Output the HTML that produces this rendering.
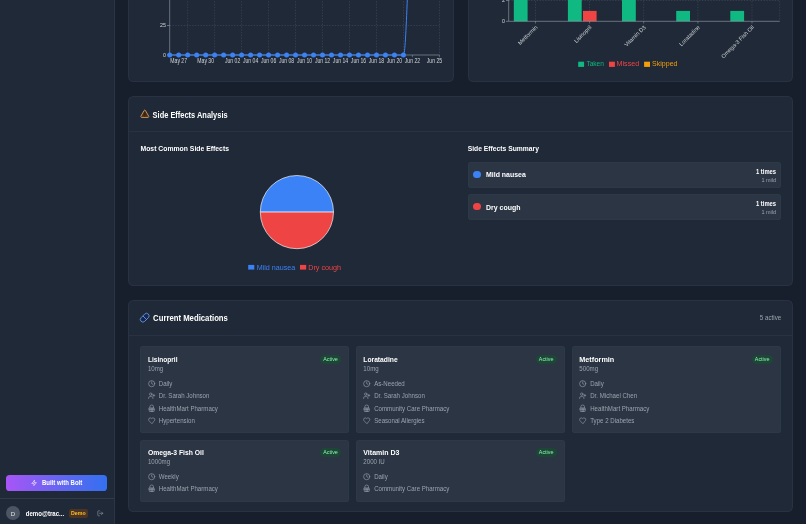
<!DOCTYPE html>
<html><head><meta charset="utf-8"><title>Medication Dashboard</title><style>
*{margin:0;padding:0;box-sizing:border-box}
html,body{width:806px;height:524px;overflow:hidden;background:#171e2c;font-family:"Liberation Sans",sans-serif;}
.a{position:absolute}
.card{position:absolute;background:#1f2937;border:1px solid rgba(55,65,81,0.42);border-radius:5.4px}
.item{position:absolute;background:rgba(55,65,81,0.5);border:1px solid rgba(75,85,99,0.12);border-radius:2.8px}
.t{position:absolute;white-space:nowrap;line-height:1}
svg{position:absolute;overflow:visible;will-change:transform}
</style></head>
<body>
<div class="a" style="left:0;top:0;width:115px;height:524px;background:#1f2937;border-right:1px solid rgba(55,65,81,0.5)"></div><div class="a" style="left:5.9px;top:474.8px;width:100.8px;height:16px;border-radius:3.6px;background:linear-gradient(90deg,#a855f7,#6366f1 55%,#3370f0)"></div><svg style="left:31.2px;top:480px" width="6.2" height="6.2" viewBox="0 0 24 24" fill="none" stroke="#fff" stroke-width="2.2" stroke-linecap="round" stroke-linejoin="round"><polygon points="13 2 3 14 12 14 11 22 21 10 12 10 13 2"/></svg><div class="a" style="left:0;top:498px;width:114px;height:1px;background:rgba(55,65,81,0.7)"></div><div class="a" style="left:5.8px;top:506px;width:14.3px;height:14.3px;border-radius:50%;background:#4b5563"></div><div class="a" style="left:69.2px;top:509.1px;width:18.6px;height:8.6px;border-radius:2.2px;background:rgba(120,63,20,0.5)"></div><svg style="left:96.8px;top:509.8px" width="6.6" height="6.6" viewBox="0 0 24 24" fill="none" stroke="#9ca3af" stroke-width="2" stroke-linecap="round" stroke-linejoin="round"><path d="M9 21H5a2 2 0 0 1-2-2V5a2 2 0 0 1 2-2h4"/><polyline points="16 17 21 12 16 7"/><line x1="21" y1="12" x2="9" y2="12"/></svg><div class="card" style="left:128.4px;top:-200px;width:325.7px;height:282.1px"></div><div class="card" style="left:467.9px;top:-200px;width:324.7px;height:282.0px"></div><div class="card" style="left:128.4px;top:96.0px;width:664.2px;height:189.6px"></div><div class="a" style="left:129px;top:131.4px;width:663.3px;height:1px;background:rgba(55,65,81,0.42)"></div><svg style="left:139.8px;top:109.4px" width="9.6" height="9.6" viewBox="0 0 24 24"><path d="M10.3 3.9a2 2 0 0 1 3.4 0l8 14A2 2 0 0 1 20 21H4a2 2 0 0 1-1.7-3.1Z" fill="#4a2e14" stroke="#d6a36a" stroke-width="2.2" stroke-linejoin="round"/><path d="M12 9v5M12 17.5v.5" stroke="#2a1a0a" stroke-width="2" stroke-linecap="round"/></svg><div class="item" style="left:468px;top:161.6px;width:312.8px;height:26.4px"></div><div class="a" style="left:473.4px;top:170.80px;width:7.2px;height:7.2px;border-radius:50%;background:#3b82f6"></div><div class="item" style="left:468px;top:194.1px;width:312.8px;height:26.4px"></div><div class="a" style="left:473.4px;top:203.30px;width:7.2px;height:7.2px;border-radius:50%;background:#ef4444"></div><div class="card" style="left:128.4px;top:300.0px;width:664.2px;height:212.4px"></div><div class="a" style="left:129px;top:334.7px;width:663.3px;height:1px;background:rgba(55,65,81,0.42)"></div><svg style="left:138.9px;top:312.1px" width="11.4" height="11.4" viewBox="0 0 12 12"><g transform="rotate(-45 6 6)"><rect x="0.6" y="3.3" width="10.8" height="5.4" rx="2.7" fill="#10295a" stroke="#7fa3d8" stroke-width="0.8"/><line x1="6" y1="3.3" x2="6" y2="8.7" stroke="#7fa3d8" stroke-width="0.8"/></g></svg><div class="item" style="left:140.2px;top:346.4px;width:208.80px;height:86.30px"></div><div class="a" style="left:320.00px;top:354.50px;width:21.1px;height:9.0px;border-radius:4.5px;background:rgba(20,83,45,0.55)"></div><svg style="left:147.50px;top:379.50px" width="7.4" height="7.4" viewBox="0 0 24 24" fill="none" stroke="#9ca3af" stroke-width="2" stroke-linecap="round" stroke-linejoin="round"><circle cx="12" cy="12" r="10"/><polyline points="12 6 12 12 16 14"/></svg><svg style="left:147.50px;top:392.10px" width="7.4" height="7.4" viewBox="0 0 24 24" fill="none" stroke="#9ca3af" stroke-width="2" stroke-linecap="round" stroke-linejoin="round"><path d="M16 21v-2a4 4 0 0 0-4-4H6a4 4 0 0 0-4 4v2"/><circle cx="9" cy="7" r="4"/><line x1="19" y1="8" x2="19" y2="14"/><line x1="22" y1="11" x2="16" y2="11"/></svg><svg style="left:147.50px;top:404.70px" width="7.4" height="7.4" viewBox="0 0 24 24" fill="none" stroke="#9ca3af" stroke-width="2" stroke-linecap="round" stroke-linejoin="round"><path d="M4 10h16v10a1 1 0 0 1-1 1H5a1 1 0 0 1-1-1Z"/><path d="M6 10V6a6 6 0 0 1 12 0v4"/><path d="M4 15h16"/><path d="M10 10v11M14 10v11"/></svg><svg style="left:147.50px;top:417.30px" width="7.4" height="7.4" viewBox="0 0 24 24" fill="none" stroke="#9ca3af" stroke-width="2" stroke-linecap="round" stroke-linejoin="round"><path d="M19 14c1.49-1.46 3-3.21 3-5.5A5.5 5.5 0 0 0 16.5 3c-1.76 0-3 .5-4.5 2-1.5-1.5-2.74-2-4.5-2A5.5 5.5 0 0 0 2 8.5c0 2.3 1.5 4.05 3 5.5l7 7Z"/></svg><div class="item" style="left:355.6px;top:346.4px;width:209.00px;height:86.30px"></div><div class="a" style="left:535.60px;top:354.50px;width:21.1px;height:9.0px;border-radius:4.5px;background:rgba(20,83,45,0.55)"></div><svg style="left:362.90px;top:379.50px" width="7.4" height="7.4" viewBox="0 0 24 24" fill="none" stroke="#9ca3af" stroke-width="2" stroke-linecap="round" stroke-linejoin="round"><circle cx="12" cy="12" r="10"/><polyline points="12 6 12 12 16 14"/></svg><svg style="left:362.90px;top:392.10px" width="7.4" height="7.4" viewBox="0 0 24 24" fill="none" stroke="#9ca3af" stroke-width="2" stroke-linecap="round" stroke-linejoin="round"><path d="M16 21v-2a4 4 0 0 0-4-4H6a4 4 0 0 0-4 4v2"/><circle cx="9" cy="7" r="4"/><line x1="19" y1="8" x2="19" y2="14"/><line x1="22" y1="11" x2="16" y2="11"/></svg><svg style="left:362.90px;top:404.70px" width="7.4" height="7.4" viewBox="0 0 24 24" fill="none" stroke="#9ca3af" stroke-width="2" stroke-linecap="round" stroke-linejoin="round"><path d="M4 10h16v10a1 1 0 0 1-1 1H5a1 1 0 0 1-1-1Z"/><path d="M6 10V6a6 6 0 0 1 12 0v4"/><path d="M4 15h16"/><path d="M10 10v11M14 10v11"/></svg><svg style="left:362.90px;top:417.30px" width="7.4" height="7.4" viewBox="0 0 24 24" fill="none" stroke="#9ca3af" stroke-width="2" stroke-linecap="round" stroke-linejoin="round"><path d="M19 14c1.49-1.46 3-3.21 3-5.5A5.5 5.5 0 0 0 16.5 3c-1.76 0-3 .5-4.5 2-1.5-1.5-2.74-2-4.5-2A5.5 5.5 0 0 0 2 8.5c0 2.3 1.5 4.05 3 5.5l7 7Z"/></svg><div class="item" style="left:571.6px;top:346.4px;width:209.00px;height:86.30px"></div><div class="a" style="left:751.60px;top:354.50px;width:21.1px;height:9.0px;border-radius:4.5px;background:rgba(20,83,45,0.55)"></div><svg style="left:578.90px;top:379.50px" width="7.4" height="7.4" viewBox="0 0 24 24" fill="none" stroke="#9ca3af" stroke-width="2" stroke-linecap="round" stroke-linejoin="round"><circle cx="12" cy="12" r="10"/><polyline points="12 6 12 12 16 14"/></svg><svg style="left:578.90px;top:392.10px" width="7.4" height="7.4" viewBox="0 0 24 24" fill="none" stroke="#9ca3af" stroke-width="2" stroke-linecap="round" stroke-linejoin="round"><path d="M16 21v-2a4 4 0 0 0-4-4H6a4 4 0 0 0-4 4v2"/><circle cx="9" cy="7" r="4"/><line x1="19" y1="8" x2="19" y2="14"/><line x1="22" y1="11" x2="16" y2="11"/></svg><svg style="left:578.90px;top:404.70px" width="7.4" height="7.4" viewBox="0 0 24 24" fill="none" stroke="#9ca3af" stroke-width="2" stroke-linecap="round" stroke-linejoin="round"><path d="M4 10h16v10a1 1 0 0 1-1 1H5a1 1 0 0 1-1-1Z"/><path d="M6 10V6a6 6 0 0 1 12 0v4"/><path d="M4 15h16"/><path d="M10 10v11M14 10v11"/></svg><svg style="left:578.90px;top:417.30px" width="7.4" height="7.4" viewBox="0 0 24 24" fill="none" stroke="#9ca3af" stroke-width="2" stroke-linecap="round" stroke-linejoin="round"><path d="M19 14c1.49-1.46 3-3.21 3-5.5A5.5 5.5 0 0 0 16.5 3c-1.76 0-3 .5-4.5 2-1.5-1.5-2.74-2-4.5-2A5.5 5.5 0 0 0 2 8.5c0 2.3 1.5 4.05 3 5.5l7 7Z"/></svg><div class="item" style="left:140.2px;top:439.6px;width:208.80px;height:62.30px"></div><div class="a" style="left:320.00px;top:447.70px;width:21.1px;height:9.0px;border-radius:4.5px;background:rgba(20,83,45,0.55)"></div><svg style="left:147.50px;top:472.70px" width="7.4" height="7.4" viewBox="0 0 24 24" fill="none" stroke="#9ca3af" stroke-width="2" stroke-linecap="round" stroke-linejoin="round"><circle cx="12" cy="12" r="10"/><polyline points="12 6 12 12 16 14"/></svg><svg style="left:147.50px;top:485.30px" width="7.4" height="7.4" viewBox="0 0 24 24" fill="none" stroke="#9ca3af" stroke-width="2" stroke-linecap="round" stroke-linejoin="round"><path d="M4 10h16v10a1 1 0 0 1-1 1H5a1 1 0 0 1-1-1Z"/><path d="M6 10V6a6 6 0 0 1 12 0v4"/><path d="M4 15h16"/><path d="M10 10v11M14 10v11"/></svg><div class="item" style="left:355.6px;top:439.6px;width:209.00px;height:62.30px"></div><div class="a" style="left:535.60px;top:447.70px;width:21.1px;height:9.0px;border-radius:4.5px;background:rgba(20,83,45,0.55)"></div><svg style="left:362.90px;top:472.70px" width="7.4" height="7.4" viewBox="0 0 24 24" fill="none" stroke="#9ca3af" stroke-width="2" stroke-linecap="round" stroke-linejoin="round"><circle cx="12" cy="12" r="10"/><polyline points="12 6 12 12 16 14"/></svg><svg style="left:362.90px;top:485.30px" width="7.4" height="7.4" viewBox="0 0 24 24" fill="none" stroke="#9ca3af" stroke-width="2" stroke-linecap="round" stroke-linejoin="round"><path d="M4 10h16v10a1 1 0 0 1-1 1H5a1 1 0 0 1-1-1Z"/><path d="M6 10V6a6 6 0 0 1 12 0v4"/><path d="M4 15h16"/><path d="M10 10v11M14 10v11"/></svg>
<svg style="left:0;top:0" width="806" height="524" viewBox="0 0 806 524" font-family="Liberation Sans"><line x1="169.7" y1="25.5" x2="439.5" y2="25.5" stroke="#4b5563" stroke-width="0.5" stroke-dasharray="1.4 1.4"/><line x1="187.68" y1="-10" x2="187.68" y2="55.0" stroke="#4b5563" stroke-width="0.5" stroke-dasharray="1.4 1.4"/><line x1="214.65" y1="-10" x2="214.65" y2="55.0" stroke="#4b5563" stroke-width="0.5" stroke-dasharray="1.4 1.4"/><line x1="241.62" y1="-10" x2="241.62" y2="55.0" stroke="#4b5563" stroke-width="0.5" stroke-dasharray="1.4 1.4"/><line x1="268.59" y1="-10" x2="268.59" y2="55.0" stroke="#4b5563" stroke-width="0.5" stroke-dasharray="1.4 1.4"/><line x1="295.56" y1="-10" x2="295.56" y2="55.0" stroke="#4b5563" stroke-width="0.5" stroke-dasharray="1.4 1.4"/><line x1="322.53" y1="-10" x2="322.53" y2="55.0" stroke="#4b5563" stroke-width="0.5" stroke-dasharray="1.4 1.4"/><line x1="349.50" y1="-10" x2="349.50" y2="55.0" stroke="#4b5563" stroke-width="0.5" stroke-dasharray="1.4 1.4"/><line x1="376.47" y1="-10" x2="376.47" y2="55.0" stroke="#4b5563" stroke-width="0.5" stroke-dasharray="1.4 1.4"/><line x1="403.44" y1="-10" x2="403.44" y2="55.0" stroke="#4b5563" stroke-width="0.5" stroke-dasharray="1.4 1.4"/><line x1="439.5" y1="-10" x2="439.5" y2="55.0" stroke="#4b5563" stroke-width="0.5" stroke-dasharray="1.4 1.4"/><line x1="169.7" y1="-10" x2="169.7" y2="55.0" stroke="#9ca3af" stroke-width="0.6"/><line x1="169.7" y1="55.0" x2="439.5" y2="55.0" stroke="#9ca3af" stroke-width="0.6"/><line x1="167.0" y1="25.5" x2="169.7" y2="25.5" stroke="#9ca3af" stroke-width="0.6"/><line x1="167.0" y1="55.0" x2="169.7" y2="55.0" stroke="#9ca3af" stroke-width="0.6"/><text x="166" y="27.4" font-size="5.37" fill="#d1d5db" text-anchor="end">25</text><text x="166" y="56.9" font-size="5.37" fill="#d1d5db" text-anchor="end">0</text><line x1="178.69" y1="55.0" x2="178.69" y2="57.2" stroke="#9ca3af" stroke-width="0.5"/><text x="178.69" y="63.0" font-size="6.27" fill="#d1d5db" text-anchor="middle" textLength="16.71" lengthAdjust="spacingAndGlyphs">May 27</text><line x1="205.66" y1="55.0" x2="205.66" y2="57.2" stroke="#9ca3af" stroke-width="0.5"/><text x="205.66" y="63.0" font-size="6.27" fill="#d1d5db" text-anchor="middle" textLength="16.71" lengthAdjust="spacingAndGlyphs">May 30</text><line x1="232.63" y1="55.0" x2="232.63" y2="57.2" stroke="#9ca3af" stroke-width="0.5"/><text x="232.63" y="63.0" font-size="6.27" fill="#d1d5db" text-anchor="middle" textLength="15.30" lengthAdjust="spacingAndGlyphs">Jun 02</text><line x1="250.61" y1="55.0" x2="250.61" y2="57.2" stroke="#9ca3af" stroke-width="0.5"/><text x="250.61" y="63.0" font-size="6.27" fill="#d1d5db" text-anchor="middle" textLength="15.30" lengthAdjust="spacingAndGlyphs">Jun 04</text><line x1="268.59" y1="55.0" x2="268.59" y2="57.2" stroke="#9ca3af" stroke-width="0.5"/><text x="268.59" y="63.0" font-size="6.27" fill="#d1d5db" text-anchor="middle" textLength="15.30" lengthAdjust="spacingAndGlyphs">Jun 06</text><line x1="286.57" y1="55.0" x2="286.57" y2="57.2" stroke="#9ca3af" stroke-width="0.5"/><text x="286.57" y="63.0" font-size="6.27" fill="#d1d5db" text-anchor="middle" textLength="15.30" lengthAdjust="spacingAndGlyphs">Jun 08</text><line x1="304.55" y1="55.0" x2="304.55" y2="57.2" stroke="#9ca3af" stroke-width="0.5"/><text x="304.55" y="63.0" font-size="6.27" fill="#d1d5db" text-anchor="middle" textLength="15.30" lengthAdjust="spacingAndGlyphs">Jun 10</text><line x1="322.53" y1="55.0" x2="322.53" y2="57.2" stroke="#9ca3af" stroke-width="0.5"/><text x="322.53" y="63.0" font-size="6.27" fill="#d1d5db" text-anchor="middle" textLength="15.30" lengthAdjust="spacingAndGlyphs">Jun 12</text><line x1="340.51" y1="55.0" x2="340.51" y2="57.2" stroke="#9ca3af" stroke-width="0.5"/><text x="340.51" y="63.0" font-size="6.27" fill="#d1d5db" text-anchor="middle" textLength="15.30" lengthAdjust="spacingAndGlyphs">Jun 14</text><line x1="358.49" y1="55.0" x2="358.49" y2="57.2" stroke="#9ca3af" stroke-width="0.5"/><text x="358.49" y="63.0" font-size="6.27" fill="#d1d5db" text-anchor="middle" textLength="15.30" lengthAdjust="spacingAndGlyphs">Jun 16</text><line x1="376.47" y1="55.0" x2="376.47" y2="57.2" stroke="#9ca3af" stroke-width="0.5"/><text x="376.47" y="63.0" font-size="6.27" fill="#d1d5db" text-anchor="middle" textLength="15.30" lengthAdjust="spacingAndGlyphs">Jun 18</text><line x1="394.45" y1="55.0" x2="394.45" y2="57.2" stroke="#9ca3af" stroke-width="0.5"/><text x="394.45" y="63.0" font-size="6.27" fill="#d1d5db" text-anchor="middle" textLength="15.30" lengthAdjust="spacingAndGlyphs">Jun 20</text><line x1="412.43" y1="55.0" x2="412.43" y2="57.2" stroke="#9ca3af" stroke-width="0.5"/><text x="412.43" y="63.0" font-size="6.27" fill="#d1d5db" text-anchor="middle" textLength="15.30" lengthAdjust="spacingAndGlyphs">Jun 22</text><line x1="439.40" y1="55.0" x2="439.40" y2="57.2" stroke="#9ca3af" stroke-width="0.5"/><text x="434.40" y="63.0" font-size="6.27" fill="#d1d5db" text-anchor="middle" textLength="15.30" lengthAdjust="spacingAndGlyphs">Jun 25</text><path d="M169.7,55.0 L403.44,55.0 C406.44,55.0 407.94,-40 412.44,-120" fill="none" stroke="#3b82f6" stroke-width="1.0"/><circle cx="169.70" cy="55.0" r="2.5" fill="#3b82f6"/><circle cx="178.69" cy="55.0" r="2.5" fill="#3b82f6"/><circle cx="187.68" cy="55.0" r="2.5" fill="#3b82f6"/><circle cx="196.67" cy="55.0" r="2.5" fill="#3b82f6"/><circle cx="205.66" cy="55.0" r="2.5" fill="#3b82f6"/><circle cx="214.65" cy="55.0" r="2.5" fill="#3b82f6"/><circle cx="223.64" cy="55.0" r="2.5" fill="#3b82f6"/><circle cx="232.63" cy="55.0" r="2.5" fill="#3b82f6"/><circle cx="241.62" cy="55.0" r="2.5" fill="#3b82f6"/><circle cx="250.61" cy="55.0" r="2.5" fill="#3b82f6"/><circle cx="259.60" cy="55.0" r="2.5" fill="#3b82f6"/><circle cx="268.59" cy="55.0" r="2.5" fill="#3b82f6"/><circle cx="277.58" cy="55.0" r="2.5" fill="#3b82f6"/><circle cx="286.57" cy="55.0" r="2.5" fill="#3b82f6"/><circle cx="295.56" cy="55.0" r="2.5" fill="#3b82f6"/><circle cx="304.55" cy="55.0" r="2.5" fill="#3b82f6"/><circle cx="313.54" cy="55.0" r="2.5" fill="#3b82f6"/><circle cx="322.53" cy="55.0" r="2.5" fill="#3b82f6"/><circle cx="331.52" cy="55.0" r="2.5" fill="#3b82f6"/><circle cx="340.51" cy="55.0" r="2.5" fill="#3b82f6"/><circle cx="349.50" cy="55.0" r="2.5" fill="#3b82f6"/><circle cx="358.49" cy="55.0" r="2.5" fill="#3b82f6"/><circle cx="367.48" cy="55.0" r="2.5" fill="#3b82f6"/><circle cx="376.47" cy="55.0" r="2.5" fill="#3b82f6"/><circle cx="385.46" cy="55.0" r="2.5" fill="#3b82f6"/><circle cx="394.45" cy="55.0" r="2.5" fill="#3b82f6"/><circle cx="403.44" cy="55.0" r="2.5" fill="#3b82f6"/><line x1="508.7" y1="0.5" x2="779.7" y2="0.5" stroke="#4b5563" stroke-width="0.5" stroke-dasharray="1.4 1.4"/><line x1="535.5" y1="-10" x2="535.5" y2="21.3" stroke="#4b5563" stroke-width="0.5" stroke-dasharray="1.4 1.4"/><line x1="589.6" y1="-10" x2="589.6" y2="21.3" stroke="#4b5563" stroke-width="0.5" stroke-dasharray="1.4 1.4"/><line x1="643.7" y1="-10" x2="643.7" y2="21.3" stroke="#4b5563" stroke-width="0.5" stroke-dasharray="1.4 1.4"/><line x1="697.9" y1="-10" x2="697.9" y2="21.3" stroke="#4b5563" stroke-width="0.5" stroke-dasharray="1.4 1.4"/><line x1="752.0" y1="-10" x2="752.0" y2="21.3" stroke="#4b5563" stroke-width="0.5" stroke-dasharray="1.4 1.4"/><line x1="779.7" y1="-10" x2="779.7" y2="21.3" stroke="#4b5563" stroke-width="0.5" stroke-dasharray="1.4 1.4"/><rect x="513.80" y="-20" width="13.8" height="41.30" fill="#10b981"/><rect x="567.90" y="-20" width="13.8" height="41.30" fill="#10b981"/><rect x="583.00" y="10.9" width="13.6" height="10.40" fill="#ef4444"/><rect x="622.00" y="-20" width="13.8" height="41.30" fill="#10b981"/><rect x="676.20" y="10.9" width="13.8" height="10.40" fill="#10b981"/><rect x="730.30" y="10.9" width="13.8" height="10.40" fill="#10b981"/><line x1="508.7" y1="-10" x2="508.7" y2="21.3" stroke="#9ca3af" stroke-width="0.6"/><line x1="508.7" y1="21.3" x2="779.7" y2="21.3" stroke="#9ca3af" stroke-width="0.6"/><line x1="506.0" y1="0.5" x2="508.7" y2="0.5" stroke="#9ca3af" stroke-width="0.6"/><line x1="506.0" y1="21.3" x2="508.7" y2="21.3" stroke="#9ca3af" stroke-width="0.6"/><text x="505" y="2.4" font-size="5.37" fill="#d1d5db" text-anchor="end">2</text><text x="505" y="23.2" font-size="5.37" fill="#d1d5db" text-anchor="end">0</text><line x1="535.5" y1="21.3" x2="535.5" y2="23.5" stroke="#9ca3af" stroke-width="0.5"/><text x="537.90" y="27.700000000000003" font-size="5.6" fill="#d1d5db" text-anchor="end" transform="rotate(-45 537.90 27.700000000000003)">Metformin</text><line x1="589.6" y1="21.3" x2="589.6" y2="23.5" stroke="#9ca3af" stroke-width="0.5"/><text x="592.00" y="27.700000000000003" font-size="5.6" fill="#d1d5db" text-anchor="end" transform="rotate(-45 592.00 27.700000000000003)">Lisinopril</text><line x1="643.7" y1="21.3" x2="643.7" y2="23.5" stroke="#9ca3af" stroke-width="0.5"/><text x="646.10" y="27.700000000000003" font-size="5.6" fill="#d1d5db" text-anchor="end" transform="rotate(-45 646.10 27.700000000000003)">Vitamin D3</text><line x1="697.9" y1="21.3" x2="697.9" y2="23.5" stroke="#9ca3af" stroke-width="0.5"/><text x="700.30" y="27.700000000000003" font-size="5.6" fill="#d1d5db" text-anchor="end" transform="rotate(-45 700.30 27.700000000000003)">Loratadine</text><line x1="752.0" y1="21.3" x2="752.0" y2="23.5" stroke="#9ca3af" stroke-width="0.5"/><text x="754.40" y="27.700000000000003" font-size="5.6" fill="#d1d5db" text-anchor="end" transform="rotate(-45 754.40 27.700000000000003)">Omega-3 Fish Oil</text><rect x="578.2" y="61.7" width="5.9" height="5.2" fill="#10b981"/><text x="586.4" y="66.2" font-size="7.16" fill="#10b981" textLength="17.5" lengthAdjust="spacingAndGlyphs">Taken</text><rect x="609.0" y="61.7" width="5.9" height="5.2" fill="#ef4444"/><text x="616.5" y="66.2" font-size="7.16" fill="#ef4444" textLength="22.7" lengthAdjust="spacingAndGlyphs">Missed</text><rect x="644.1" y="61.7" width="5.9" height="5.2" fill="#f59e0b"/><text x="652.0" y="66.2" font-size="7.16" fill="#f59e0b" textLength="25.5" lengthAdjust="spacingAndGlyphs">Skipped</text><path d="M260.29999999999995,212.1 A36.6,36.6 0 0 1 333.5,212.1 Z" fill="#3b82f6" stroke="#f3f4f6" stroke-width="0.7"/><path d="M333.5,212.1 A36.6,36.6 0 0 1 260.29999999999995,212.1 Z" fill="#ef4444" stroke="#f3f4f6" stroke-width="0.7"/><rect x="248.2" y="264.9" width="6.1" height="4.7" fill="#3b82f6"/><text x="256.7" y="269.6" font-size="7.16" fill="#3b82f6" textLength="38.6" lengthAdjust="spacingAndGlyphs">Mild nausea</text><rect x="300.0" y="264.9" width="6.2" height="4.7" fill="#ef4444"/><text x="308.2" y="269.6" font-size="7.16" fill="#ef4444" textLength="32.8" lengthAdjust="spacingAndGlyphs">Dry cough</text><text x="41.90" y="485.40" font-size="6.27" fill="#fff" font-weight="700" textLength="40.40" lengthAdjust="spacingAndGlyphs">Built with Bolt</text><text x="12.90" y="515.60" font-size="6.0" fill="#e5e7eb" text-anchor="middle">D</text><text x="25.70" y="515.80" font-size="6.27" fill="#fff" font-weight="700" textLength="38.50" lengthAdjust="spacingAndGlyphs">demo@trac...</text><text x="71.00" y="515.30" font-size="5.37" fill="#fbbf24" font-weight="700" textLength="14.60" lengthAdjust="spacingAndGlyphs">Demo</text><text x="152.60" y="118.00" font-size="8.4" fill="#fff" font-weight="700" textLength="75.00" lengthAdjust="spacingAndGlyphs">Side Effects Analysis</text><text x="140.50" y="151.30" font-size="7.16" fill="#fff" font-weight="700" textLength="88.50" lengthAdjust="spacingAndGlyphs">Most Common Side Effects</text><text x="467.70" y="151.30" font-size="7.16" fill="#fff" font-weight="700" textLength="71.20" lengthAdjust="spacingAndGlyphs">Side Effects Summary</text><text x="486.00" y="177.00" font-size="7.16" fill="#fff" font-weight="700" textLength="39.80" lengthAdjust="spacingAndGlyphs">Mild nausea</text><text x="776.10" y="173.50" font-size="6.27" fill="#fff" font-weight="700" text-anchor="end" textLength="20.10" lengthAdjust="spacingAndGlyphs">1 times</text><text x="776.10" y="181.80" font-size="5.37" fill="#9ca3af" text-anchor="end" textLength="14.70" lengthAdjust="spacingAndGlyphs">1 mild</text><text x="486.00" y="209.50" font-size="7.16" fill="#fff" font-weight="700" textLength="34.39" lengthAdjust="spacingAndGlyphs">Dry cough</text><text x="776.10" y="206.00" font-size="6.27" fill="#fff" font-weight="700" text-anchor="end" textLength="20.10" lengthAdjust="spacingAndGlyphs">1 times</text><text x="776.10" y="214.30" font-size="5.37" fill="#9ca3af" text-anchor="end" textLength="14.70" lengthAdjust="spacingAndGlyphs">1 mild</text><text x="153.10" y="321.10" font-size="8.4" fill="#fff" font-weight="700" textLength="74.80" lengthAdjust="spacingAndGlyphs">Current Medications</text><text x="781.20" y="320.20" font-size="6.27" fill="#9ca3af" text-anchor="end" textLength="21.40" lengthAdjust="spacingAndGlyphs">5 active</text><text x="147.90" y="361.60" font-size="7.16" fill="#fff" font-weight="700" textLength="29.60" lengthAdjust="spacingAndGlyphs">Lisinopril</text><text x="147.90" y="371.20" font-size="6.27" fill="#9ca3af" textLength="15.37" lengthAdjust="spacingAndGlyphs">10mg</text><text x="330.55" y="361.00" font-size="5.37" fill="#86efac" text-anchor="middle">Active</text><text x="158.80" y="385.60" font-size="6.27" fill="#9ca3af" textLength="13.59" lengthAdjust="spacingAndGlyphs">Daily</text><text x="158.80" y="398.20" font-size="6.27" fill="#9ca3af" textLength="50.63" lengthAdjust="spacingAndGlyphs">Dr. Sarah Johnson</text><text x="158.80" y="410.80" font-size="6.27" fill="#9ca3af" textLength="59.11" lengthAdjust="spacingAndGlyphs">HealthMart Pharmacy</text><text x="158.80" y="423.40" font-size="6.27" fill="#9ca3af" textLength="36.02" lengthAdjust="spacingAndGlyphs">Hypertension</text><text x="363.30" y="361.60" font-size="7.16" fill="#fff" font-weight="700" textLength="34.40" lengthAdjust="spacingAndGlyphs">Loratadine</text><text x="363.30" y="371.20" font-size="6.27" fill="#9ca3af" textLength="15.37" lengthAdjust="spacingAndGlyphs">10mg</text><text x="546.15" y="361.00" font-size="5.37" fill="#86efac" text-anchor="middle">Active</text><text x="374.20" y="385.60" font-size="6.27" fill="#9ca3af" textLength="30.58" lengthAdjust="spacingAndGlyphs">As-Needed</text><text x="374.20" y="398.20" font-size="6.27" fill="#9ca3af" textLength="50.63" lengthAdjust="spacingAndGlyphs">Dr. Sarah Johnson</text><text x="374.20" y="410.80" font-size="6.27" fill="#9ca3af" textLength="75.07" lengthAdjust="spacingAndGlyphs">Community Care Pharmacy</text><text x="374.20" y="423.40" font-size="6.27" fill="#9ca3af" textLength="50.29" lengthAdjust="spacingAndGlyphs">Seasonal Allergies</text><text x="579.30" y="361.60" font-size="7.16" fill="#fff" font-weight="700" textLength="35.00" lengthAdjust="spacingAndGlyphs">Metformin</text><text x="579.30" y="371.20" font-size="6.27" fill="#9ca3af" textLength="18.79" lengthAdjust="spacingAndGlyphs">500mg</text><text x="762.15" y="361.00" font-size="5.37" fill="#86efac" text-anchor="middle">Active</text><text x="590.20" y="385.60" font-size="6.27" fill="#9ca3af" textLength="13.59" lengthAdjust="spacingAndGlyphs">Daily</text><text x="590.20" y="398.20" font-size="6.27" fill="#9ca3af" textLength="46.89" lengthAdjust="spacingAndGlyphs">Dr. Michael Chen</text><text x="590.20" y="410.80" font-size="6.27" fill="#9ca3af" textLength="59.11" lengthAdjust="spacingAndGlyphs">HealthMart Pharmacy</text><text x="590.20" y="423.40" font-size="6.27" fill="#9ca3af" textLength="44.17" lengthAdjust="spacingAndGlyphs">Type 2 Diabetes</text><text x="147.90" y="454.80" font-size="7.16" fill="#fff" font-weight="700" textLength="56.00" lengthAdjust="spacingAndGlyphs">Omega-3 Fish Oil</text><text x="147.90" y="464.40" font-size="6.27" fill="#9ca3af" textLength="22.20" lengthAdjust="spacingAndGlyphs">1000mg</text><text x="330.55" y="454.20" font-size="5.37" fill="#86efac" text-anchor="middle">Active</text><text x="158.80" y="478.80" font-size="6.27" fill="#9ca3af" textLength="19.93" lengthAdjust="spacingAndGlyphs">Weekly</text><text x="158.80" y="491.40" font-size="6.27" fill="#9ca3af" textLength="59.11" lengthAdjust="spacingAndGlyphs">HealthMart Pharmacy</text><text x="363.30" y="454.80" font-size="7.16" fill="#fff" font-weight="700" textLength="36.10" lengthAdjust="spacingAndGlyphs">Vitamin D3</text><text x="363.30" y="464.40" font-size="6.27" fill="#9ca3af" textLength="21.52" lengthAdjust="spacingAndGlyphs">2000 IU</text><text x="546.15" y="454.20" font-size="5.37" fill="#86efac" text-anchor="middle">Active</text><text x="374.20" y="478.80" font-size="6.27" fill="#9ca3af" textLength="13.59" lengthAdjust="spacingAndGlyphs">Daily</text><text x="374.20" y="491.40" font-size="6.27" fill="#9ca3af" textLength="75.07" lengthAdjust="spacingAndGlyphs">Community Care Pharmacy</text></svg>
</body></html>
